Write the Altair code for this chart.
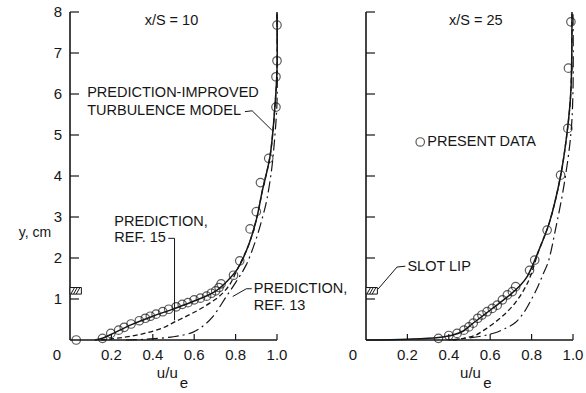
import altair as alt
import pandas as pd

FONT = "Liberation Sans, Arial, sans-serif"
INK = "#161616"
W, H = 207, 328

# ---- x/S = 10 ----------------------------------------------------------
data10_u = [0.03, 0.157, 0.197, 0.235, 0.262, 0.295, 0.335, 0.364, 0.388, 0.416,
            0.448, 0.477, 0.513, 0.542, 0.57, 0.60, 0.63, 0.66, 0.683, 0.704,
            0.72, 0.73, 0.79, 0.82, 0.87, 0.90, 0.92, 0.96, 0.995, 0.995, 1.0, 1.0]
data10_y = [0.0, 0.04, 0.16, 0.24, 0.31, 0.39, 0.47, 0.53, 0.58, 0.63,
            0.69, 0.75, 0.81, 0.87, 0.91, 0.98, 1.02, 1.07, 1.14, 1.20,
            1.28, 1.37, 1.58, 1.93, 2.71, 3.13, 3.84, 4.43, 5.68, 6.42, 6.81, 7.68]

model10_u = [0.12, 0.16, 0.2, 0.3, 0.4, 0.5, 0.6, 0.7, 0.76, 0.81, 0.86, 0.9, 0.93, 0.966, 0.99, 1.0, 1.0]
model10_y = [0.0, 0.05, 0.14, 0.38, 0.58, 0.76, 0.95, 1.18, 1.44, 1.74, 2.28, 2.93, 3.66, 4.47, 5.7, 6.6, 8.0]

ref15_10_u = [0.15, 0.25, 0.35, 0.45, 0.51, 0.57, 0.62, 0.675, 0.72, 0.77, 0.81, 0.86, 0.9, 0.93, 0.966, 0.99, 1.0, 1.0]
ref15_10_y = [0.0, 0.06, 0.15, 0.3, 0.45, 0.6, 0.73, 0.9, 1.06, 1.34, 1.74, 2.28, 2.93, 3.66, 4.47, 5.7, 6.6, 8.0]

ref13_10_u = [0.27, 0.37, 0.5, 0.59, 0.64, 0.69, 0.755, 0.80, 0.85, 0.895, 0.925, 0.95, 0.975, 0.99, 1.0, 1.0]
ref13_10_y = [0.0, 0.02, 0.08, 0.18, 0.33, 0.57, 1.06, 1.4, 1.82, 2.4, 2.9, 3.4, 4.2, 5.0, 5.8, 8.0]

# ---- x/S = 25 ----------------------------------------------------------
data25_u = [0.35, 0.40, 0.44, 0.473, 0.497, 0.518, 0.54, 0.56, 0.585, 0.61, 0.634,
            0.659, 0.683, 0.707, 0.723, 0.79, 0.815, 0.875, 0.94, 0.975, 0.978, 0.99]
data25_y = [0.04, 0.11, 0.16, 0.24, 0.32, 0.41, 0.53, 0.61, 0.69, 0.77, 0.85,
            0.98, 1.10, 1.18, 1.30, 1.70, 1.95, 2.68, 4.02, 5.16, 6.63, 7.76]

model25_u = [0.0, 0.2, 0.35, 0.42, 0.47, 0.52, 0.58, 0.64, 0.7, 0.75, 0.78, 0.836, 0.885, 0.94, 0.974, 0.99, 0.995]
model25_y = [0.0, 0.02, 0.06, 0.12, 0.22, 0.42, 0.65, 0.88, 1.12, 1.36, 1.56, 2.2, 2.85, 4.0, 5.17, 6.1, 8.0]

ref15_25_u = [0.42, 0.48, 0.53, 0.57, 0.62, 0.67, 0.72, 0.76, 0.79, 0.836, 0.885, 0.94, 0.974, 0.99, 0.995]
ref15_25_y = [0.0, 0.05, 0.12, 0.24, 0.42, 0.63, 0.9, 1.2, 1.5, 2.2, 2.85, 4.0, 5.17, 6.1, 8.0]

ref13_25_u = [0.4, 0.54, 0.62, 0.68, 0.72, 0.76, 0.80, 0.83, 0.855, 0.88, 0.918, 0.958, 0.99, 1.0, 1.0]
ref13_25_y = [0.0, 0.08, 0.17, 0.3, 0.42, 0.65, 1.0, 1.3, 1.6, 1.9, 2.76, 3.82, 5.04, 6.1, 8.0]

# axis ticks
y_ticks = [1, 2, 3, 4, 5, 6, 7, 8]
x_ticks = [0.2, 0.4, 0.6, 0.8, 1.0]

# slot lip marker (u from, u to, y from, y to) and its hatching
lip_box = [0.0, 0.055, 1.12, 1.28]
hatch_u0 = [0.004, 0.017, 0.030]
hatch_u1 = [0.022, 0.035, 0.048]

# leader lines
lead_model_u = [0.845, 0.88, 0.975]
lead_model_y = [5.57, 5.59, 5.12]
lead_r15_u = [0.475, 0.505, 0.505]
lead_r15_y = [2.48, 2.48, 0.48]
lead_r13_u = [0.878, 0.852, 0.786]
lead_r13_y = [1.25, 1.25, 1.06]
lead_lip_u = [0.19, 0.15, 0.058]
lead_lip_y = [1.80, 1.78, 1.24]

TEXT_SIZE = 14.5
TICK_SIZE = 15


def xs(field="u"):
    return alt.X(f"{field}:Q", scale=alt.Scale(domain=[0, 1.0], nice=False, zero=False),
                 axis=None)


def ys(field="y"):
    return alt.Y(f"{field}:Q", scale=alt.Scale(domain=[0, 8], nice=False, zero=False),
                 axis=None)


def path(u, y):
    return pd.DataFrame({"u": u, "y": y, "i": range(len(u))})


def curve(u, y, dash=None, width=1.4):
    kw = dict(interpolate="catmull-rom", color=INK, strokeWidth=width)
    if dash:
        kw["strokeDash"] = dash
    return alt.Chart(path(u, y)).mark_line(**kw).encode(
        x=xs(), y=ys(), order=alt.Order("i:Q"))


def leader(u, y):
    return alt.Chart(path(u, y)).mark_line(color=INK, strokeWidth=1).encode(
        x=xs(), y=ys(), order=alt.Order("i:Q"))


def labels(rows, align="left", size=TEXT_SIZE):
    df = pd.DataFrame(rows, columns=["u", "y", "t"])
    return alt.Chart(df).mark_text(align=align, baseline="middle", font=FONT,
                                   fontSize=size, color=INK).encode(
        x=xs(), y=ys(), text="t:N")


def frame(show_y_labels):
    layers = []
    # axis lines
    layers.append(alt.Chart(pd.DataFrame({"u": [0.0], "y": [0.0]})).mark_rule(
        color=INK, strokeWidth=1.6).encode(x=xs(), y=alt.value(0), y2=alt.value(H)))
    layers.append(alt.Chart(pd.DataFrame({"u": [0.0], "y": [0.0]})).mark_rule(
        color=INK, strokeWidth=1.6).encode(y=ys(), x=alt.value(0), x2=alt.value(W)))
    # inward ticks
    layers.append(alt.Chart(pd.DataFrame({"y": y_ticks})).mark_rule(
        color=INK, strokeWidth=1.2).encode(y=ys(), x=alt.value(0), x2=alt.value(9)))
    layers.append(alt.Chart(pd.DataFrame({"u": x_ticks})).mark_rule(
        color=INK, strokeWidth=1.2).encode(x=xs(), y=alt.value(H), y2=alt.value(H - 6)))
    # tick labels
    layers.append(alt.Chart(pd.DataFrame({"u": x_ticks, "t": [f"{v:.1f}" for v in x_ticks]}))
                  .mark_text(baseline="middle", font=FONT, fontSize=TICK_SIZE, color=INK, dy=15)
                  .encode(x=xs(), y=alt.value(H), text="t:N"))
    layers.append(alt.Chart(pd.DataFrame({"u": [0.0], "t": ["0"]}))
                  .mark_text(baseline="middle", font=FONT, fontSize=TICK_SIZE, color=INK, dy=15, dx=-13)
                  .encode(x=xs(), y=alt.value(H), text="t:N"))
    if show_y_labels:
        layers.append(alt.Chart(pd.DataFrame({"y": y_ticks, "t": [str(v) for v in y_ticks]}))
                      .mark_text(align="right", baseline="middle", font=FONT, fontSize=TICK_SIZE,
                                 color=INK, dx=-8)
                      .encode(y=ys(), x=alt.value(0), text="t:N"))
    # slot lip marker
    box = pd.DataFrame({"u": [lip_box[0]], "u2": [lip_box[1]], "y": [lip_box[2]], "y2": [lip_box[3]]})
    layers.append(alt.Chart(box).mark_rect(fill="white", stroke=INK, strokeWidth=1).encode(
        x=xs(), x2="u2:Q", y=ys(), y2="y2:Q"))
    hatch = pd.DataFrame({"u": hatch_u0, "u2": hatch_u1,
                          "y": [lip_box[2]] * 3, "y2": [lip_box[3]] * 3})
    layers.append(alt.Chart(hatch).mark_rule(color=INK, strokeWidth=1).encode(
        x=xs(), x2="u2:Q", y=ys(), y2="y2:Q"))
    return layers


def circles(u, y):
    return alt.Chart(pd.DataFrame({"u": u, "y": y})).mark_point(
        shape="circle", filled=False, size=72, strokeWidth=1.2, color=INK).encode(x=xs(), y=ys())


def axis_title(uc, ue):
    return [
        labels([(uc, 0, "u/u")], align="center", size=15).encode(y=alt.value(H + 33)),
        labels([(ue, 0, "e")], align="center", size=15).encode(y=alt.value(H + 43)),
    ]


# left panel
left_layers = frame(True) + [
    curve(ref13_10_u, ref13_10_y, dash=[11, 4, 2, 4], width=1.2),
    curve(ref15_10_u, ref15_10_y, dash=[5, 3], width=1.3),
    curve(model10_u, model10_y, width=1.5),
    circles(data10_u, data10_y),
    leader(lead_model_u, lead_model_y),
    leader(lead_r15_u, lead_r15_y),
    leader(lead_r13_u, lead_r13_y),
    labels([(0.49, 7.78, "x/S = 10")], align="center"),
    labels([(0.083, 6.02, "PREDICTION-IMPROVED"),
            (0.083, 5.59, "TURBULENCE MODEL"),
            (0.214, 2.88, "PREDICTION,"),
            (0.214, 2.48, "REF. 15"),
            (0.888, 1.24, "PREDICTION,"),
            (0.888, 0.83, "REF. 13")]),
    labels([(0.0, 2.61, "y, cm")], align="center", size=14).encode(x=alt.value(-35)),
    # fixes the outer-left and top edges of the figure
    alt.Chart(pd.DataFrame({"u": [0.0]})).mark_rule(opacity=0).encode(
        x=alt.value(-70), x2=alt.value(-69), y=alt.value(-12), y2=alt.value(-11)),
] + axis_title(0.47, 0.55)

right_layers = frame(False) + [
    curve(ref13_25_u, ref13_25_y, dash=[11, 4, 2, 4], width=1.2),
    curve(ref15_25_u, ref15_25_y, dash=[5, 3], width=1.3),
    curve(model25_u, model25_y, width=1.5),
    circles(data25_u, data25_y),
    circles([0.262], [4.83]),
    leader(lead_lip_u, lead_lip_y),
    labels([(0.53, 7.78, "x/S = 25")], align="center"),
    labels([(0.296, 4.83, "PRESENT DATA"),
            (0.2, 1.78, "SLOT LIP")]),
] + axis_title(0.505, 0.587)

left = alt.layer(*left_layers).properties(width=W, height=H)
right = alt.layer(*right_layers).properties(width=W, height=H)

chart = alt.hconcat(left, right, spacing=89, bounds="flush").properties(
    padding=0, background="white"
).configure_view(stroke=None)

chart.save("out.html", embed_options={"renderer": "svg", "actions": False})
